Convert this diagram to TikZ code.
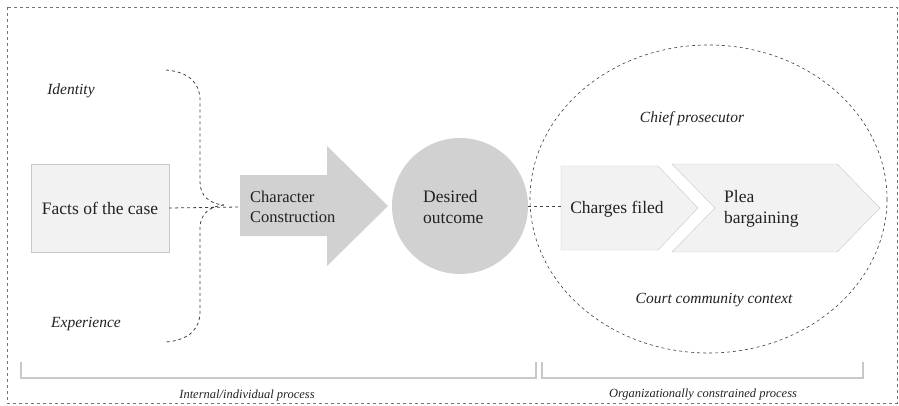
\documentclass[tikz,border=0pt]{standalone}
\usepackage{fontspec}
\setmainfont{Liberation Serif}

\definecolor{boxfill}{HTML}{F2F2F2}
\definecolor{boxline}{HTML}{C8C8C8}
\definecolor{darkfill}{HTML}{D1D1D1}
\definecolor{txt}{HTML}{222222}

\begin{document}
\begin{tikzpicture}[x=1pt, y=-1pt, text=txt,
        main/.style={font=\fontsize{17.5}{21.5}\selectfont, align=left},
        lab/.style={font=\fontsize{15.5}{18}\selectfont\itshape},
        small/.style={font=\fontsize{12.5}{15}\selectfont\itshape},
        link/.style={dashed, draw=black!75, thick},
        brack/.style={draw=boxline, line width=1.1pt}]
            \useasboundingbox (0,0) rectangle (899,405);
            \draw[dashed, draw=black!55] (7,7) rectangle (897,403);

            % left part
            \node[main, draw=boxline, fill=boxfill, minimum width=138, minimum height=88] (facts) at (100,208) {Facts of the case};
            \node[lab] (identity) at (71,91) {Identity};
            \node[lab] (experience) at (86,324) {Experience};
            \coordinate (meet) at (224,205);
            \draw[link] (166,70) .. controls (190,72) and (200,84) .. (200,100) -- (200,182) .. controls (200,196) and (210,204) .. (meet);
            \draw[link] (meet) .. controls (210,206) and (200,214) .. (200,228) -- (200,312) .. controls (200,328) and (190,340) .. (166,342);

            \fill[darkfill] (240,175) -- (327,175) -- (327,146) -- (388,206) -- (327,266) -- (327,236) -- (240,236) -- cycle;
            \node[main, font=\fontsize{16.5}{19.5}\selectfont, anchor=west, inner xsep=10] (character) at (240,207) {Character\\Construction};
            \draw[link] (facts.east) -- (character.west);

            \node[circle, fill=darkfill, minimum size=136] (desired) at (460,206) {};
            \node[main, anchor=west, inner xsep=0] (outcome) at (423,207) {Desired\\outcome};

            % right part
            \draw[link, semithick] (708.5,199) ellipse [x radius=178.5, y radius=154];
            \node[lab] (chief) at (692,119) {Chief prosecutor};
            \node[lab] (court) at (714,300) {Court community context};

            \filldraw[fill=boxfill, draw=boxline] (561,166) -- (658,166) -- (698,208) -- (658,250) -- (561,250) -- cycle;
            \filldraw[fill=boxfill, draw=boxline] (672,164) -- (837,164) -- (880,208) -- (837,252) -- (672,252) -- (715,208) -- cycle;
            \coordinate (charges-in) at (561,206);
            \node[main] (charges) at (617,209) {Charges filed};
            \node[main, anchor=west, inner xsep=0] (plea) at (724,209) {Plea\\bargaining};
            \draw[link] (desired.east) -- (charges-in);

            % bottom brackets
            \draw[brack] (21,362) -- (21,378) -- (536,378) -- (536,362);
            \draw[brack] (542,362) -- (542,378) -- (863,378) -- (863,362);
            \node[small] (internal) at (247,395) {Internal/individual process};
            \node[small] (organ) at (703,395) {Organizationally constrained process};
        \end{tikzpicture}
\end{document}
